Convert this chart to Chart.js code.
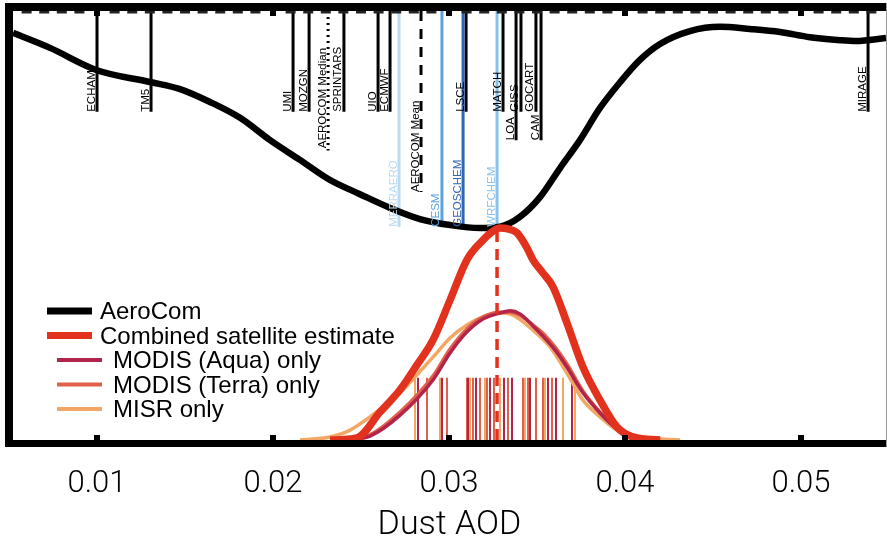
<!DOCTYPE html>
<html><head><meta charset="utf-8">
<script src="https://cdn.jsdelivr.net/npm/chart.js@4/dist/chart.umd.min.js"></script>
<style>html,body{margin:0;padding:0;background:#fff;overflow:hidden}canvas{display:block}</style>
</head><body>
<canvas id="c" width="887" height="547"></canvas>
<script>
// ---------------- DATA ----------------
const xTicks = [0.01, 0.02, 0.03, 0.04, 0.05];
const xLabel = 'Dust AOD';

const modelNames = ['ECHAM','TM5','UMI','MOZGN','AEROCOM Median','SPRINTARS','UIO','ECMWF','MERRAERO','AEROCOM Mean','CESM','GEOSCHEM','LSCE','WRFCHEM','MATCH','LOA','GISS','GOCART','CAM','MIRAGE'];
const modelAOD   = [0.0100,0.01307,0.02114,0.02205,0.02313,0.02403,0.02597,0.02665,0.02716,0.02841,0.02960,0.03080,0.03097,0.03273,0.03307,0.03381,0.03409,0.03494,0.03523,0.05381];

// AeroCom model distribution (density, hanging from the top of the panel)
const aerocomAOD     = [0.00523,0.00733,0.0100,0.01307,0.01472,0.01642,0.01813,0.01983,0.02153,0.02324,0.02494,0.02665,0.02835,0.03006,0.03176,0.0329,0.03403,0.03517,0.03631,0.03744,0.03858,0.03972,0.04085,0.04199,0.04369,0.0454,0.0471,0.04881,0.05051,0.05222,0.05313,0.05483];
const aerocomDensity = [5.1,8.6,13.8,16.6,18.2,21.2,24.9,30.1,34.7,39.4,42.7,45.9,48.5,49.9,50.6,50.3,48.0,43.4,36.6,30.1,22.6,16.6,11.4,7.7,4.7,3.7,4.2,4.9,6.1,6.8,7.0,6.3];

// Combined satellite estimate
const combinedAOD     = [0.02324,0.02477,0.02608,0.02722,0.02818,0.02909,0.03006,0.03102,0.03193,0.03244,0.0329,0.03335,0.03386,0.03443,0.03477,0.03534,0.03591,0.0367,0.03761,0.03858,0.03955,0.04045,0.04199];
const combinedDensity = [0,0.5,6.5,11.7,17.5,23.3,32.6,42.0,46.6,48.5,49.4,49.2,48.3,44.8,42.0,38.9,35.7,27.3,17.0,9.3,3.0,0.7,0];
const combinedMean = 0.03273;

// MODIS (Aqua) only
const aquaAOD     = [0.02438,0.02551,0.02722,0.02909,0.03006,0.03102,0.03193,0.0329,0.03347,0.03403,0.03477,0.03534,0.03602,0.0367,0.03761,0.03858,0.03955,0.04085,0.04199];
const aquaDensity = [0,0.9,5.8,14.0,20.3,25.2,28.2,29.6,30.1,29.4,26.6,24.2,21.0,17.0,11.0,6.3,2.6,0.5,0];
// MODIS (Terra) only
const terraAOD     = [0.02409,0.02551,0.02722,0.02909,0.03006,0.03102,0.03193,0.0329,0.03347,0.03403,0.03477,0.03534,0.03602,0.0367,0.03761,0.03858,0.03955,0.04085,0.04199];
const terraDensity = [0,1.2,6.5,14.9,21.2,25.9,28.7,29.8,29.8,29.1,26.8,24.9,21.7,17.7,11.4,6.5,2.8,0.7,0];
// MISR only
const misrAOD     = [0.02153,0.02324,0.02438,0.02625,0.02722,0.02818,0.02909,0.03006,0.03102,0.03193,0.0329,0.03364,0.03477,0.03574,0.0367,0.03761,0.03858,0.03955,0.04142,0.04313];
const misrDensity = [0,0.7,2.3,7.7,11.0,15.2,19.3,23.8,26.8,28.7,29.6,29.1,25.6,21.7,15.6,9.3,5.4,2.3,0.5,0];

// individual retrieval values (rug)
const rugMisr  = [0.028068,0.029489,0.031193,0.032045,0.032898,0.034318,0.035455,0.036477,0.03716];
const rugAqua  = [0.028239,0.029602,0.03108,0.031534,0.03233,0.033125,0.03358,0.034602,0.035625,0.03608,0.036989];
const rugTerra = [0.02875,0.029886,0.031023,0.031364,0.031761,0.032159,0.032557,0.033352,0.034205,0.034489,0.034943,0.035341,0.035852];

const legendLabels = ['AeroCom','Combined satellite estimate','MODIS (Aqua) only','MODIS (Terra) only','MISR only'];

// ---------------- STYLE ----------------
const C = {aero:'#000000', comb:'#e2311d', aqua:'#b3244b', terra:'#e0604a', misr:'#f2a764'};
const modelStyle = {
  'ECHAM':{c:'#000',len:23.5}, 'TM5':{c:'#000',len:23.5}, 'UMI':{c:'#000',len:23.5}, 'MOZGN':{c:'#000',len:23.5},
  'AEROCOM Median':{c:'#000',len:32.5,dash:[2,4],lab:32.0}, 'SPRINTARS':{c:'#000',len:23.5}, 'UIO':{c:'#000',len:23.5},
  'ECMWF':{c:'#000',len:23.5}, 'MERRAERO':{c:'#b9dcf4',len:50.3}, 'AEROCOM Mean':{c:'#000',len:42.2,dash:[10,8]},
  'CESM':{c:'#5da2de',len:50.3}, 'GEOSCHEM':{c:'#2f66b6',len:50.3}, 'LSCE':{c:'#000',len:23.5},
  'WRFCHEM':{c:'#88c2ec',len:50.3}, 'MATCH':{c:'#000',len:23.5}, 'LOA':{c:'#000',len:30.1},
  'GISS':{c:'#000',len:23.5}, 'GOCART':{c:'#000',len:23.5}, 'CAM':{c:'#000',len:30.1}, 'MIRAGE':{c:'#000',len:23.5}
};
const rugTop = 14.5;
const FONT = '"Liberation Sans", Arial, sans-serif';
const AXFONT = 'Roboto, "Liberation Sans", sans-serif';

// ---------------- BUILD ----------------
const pts = (xs, ys) => xs.map((x,i)=>({x, y:ys[i]}));
const rug = arr => { const d=[]; arr.forEach(v=>{ d.push({x:v,y:0},{x:v,y:rugTop},{x:v,y:null}); }); return d; };

const datasets = [];
datasets.push({data:pts(combinedAOD,combinedDensity), borderColor:C.comb, borderWidth:7.5, yAxisID:'y', cubicInterpolationMode:'monotone'});
datasets.push({data:[{x:combinedMean,y:0},{x:combinedMean,y:Math.max(...combinedDensity)}], borderColor:C.comb, borderWidth:3.5, borderDash:[11,7], yAxisID:'y'});
datasets.push({data:pts(aquaAOD,aquaDensity), borderColor:C.aqua, borderWidth:3.5, yAxisID:'y', cubicInterpolationMode:'monotone'});
datasets.push({data:pts(terraAOD,terraDensity), borderColor:C.terra, borderWidth:3.5, yAxisID:'y', cubicInterpolationMode:'monotone'});
datasets.push({data:pts(misrAOD,misrDensity), borderColor:C.misr, borderWidth:3.5, yAxisID:'y', cubicInterpolationMode:'monotone'});
datasets.push({data:rug(rugAqua), borderColor:C.aqua, borderWidth:2, yAxisID:'y'});
datasets.push({data:rug(rugTerra), borderColor:C.terra, borderWidth:2, yAxisID:'y'});
datasets.push({data:rug(rugMisr), borderColor:C.misr, borderWidth:2, yAxisID:'y'});
datasets.push({data:pts(aerocomAOD,aerocomDensity), borderColor:C.aero, borderWidth:6.5, yAxisID:'y2', cubicInterpolationMode:'monotone'});
modelNames.forEach((n,i)=>{
  const s = modelStyle[n];
  datasets.push({data:[{x:modelAOD[i],y:0},{x:modelAOD[i],y:s.len}], borderColor:s.c, borderWidth:3, borderDash:s.dash||[], yAxisID:'y2'});
});
datasets.forEach(d=>{ d.pointRadius=0; d.fill=false; d.borderCapStyle='butt'; d.spanGaps=false; });

const labelsPlugin = {
  id:'modelLabels',
  afterDatasetsDraw(chart){
    const ctx = chart.ctx, xs = chart.scales.x, ys = chart.scales.y2;
    ctx.save();
    ctx.font = '11.5px ' + FONT;
    modelNames.forEach((n,i)=>{
      const s = modelStyle[n];
      const px = xs.getPixelForValue(modelAOD[i]);
      const py = ys.getPixelForValue(s.lab!==undefined ? s.lab : s.len);
      ctx.save();
      ctx.translate(px-2.5, py);
      ctx.rotate(-Math.PI/2);
      ctx.fillStyle = s.c;
      ctx.textAlign='left'; ctx.textBaseline='alphabetic';
      ctx.fillText(n, 0, 0);
      ctx.restore();
    });
    ctx.restore();
  }
};

const framePlugin = {
  id:'frame',
  afterDraw(chart){
    const ctx = chart.ctx, a = chart.chartArea, xs = chart.scales.x;
    ctx.save();
    ctx.fillStyle='#000';
    ctx.fillRect(5, 3, a.right-5, 8);          // top
    ctx.fillRect(5, 3, a.left-5, a.bottom+7-3); // left
    ctx.fillRect(5, a.bottom, a.right-5, 7);   // bottom
    ctx.strokeStyle='#9a9a9a'; ctx.lineWidth=1;
    ctx.beginPath(); ctx.moveTo(a.right+0.5, 3); ctx.lineTo(a.right+0.5, a.bottom+7); ctx.stroke();
    // minor ticks on top
    ctx.fillStyle='#222';
    for (let k=6; k<=54; k++){
      if (k%10===0) continue;
      const px = xs.getPixelForValue(k/1000);
      if (px < a.left+4 || px > a.right-4) continue;
      ctx.fillRect(px-5, a.top, 10, 2.5);
    }
    ctx.fillStyle='#000';
    xTicks.forEach(v=>{
      const px = xs.getPixelForValue(v);
      ctx.fillRect(px-3, a.top, 6, 5);
      ctx.fillRect(px-3, a.bottom-5, 6, 5);
    });
    // legend
    const rows = [
      {c:C.aero, w:7, x0:47, x1:92, tx:100},
      {c:C.comb, w:7, x0:47, x1:92, tx:100},
      {c:C.aqua, w:4, x0:57, x1:102, tx:113},
      {c:C.terra,w:4, x0:57, x1:102, tx:113},
      {c:C.misr, w:4, x0:57, x1:102, tx:113}
    ];
    ctx.font = '24px ' + FONT;
    ctx.textBaseline='alphabetic'; ctx.textAlign='left';
    rows.forEach((r,i)=>{
      const base = 319 + i*24.5;
      ctx.strokeStyle=r.c; ctx.lineWidth=r.w; ctx.lineCap='butt';
      ctx.beginPath(); ctx.moveTo(r.x0, base-8); ctx.lineTo(r.x1, base-8); ctx.stroke();
      ctx.fillStyle='#000';
      ctx.fillText(legendLabels[i], r.tx, base);
    });
    ctx.restore();
  }
};

new Chart(document.getElementById('c'), {
  type:'line',
  data:{datasets},
  options:{
    responsive:false, animation:false, devicePixelRatio:1, events:[],
    layout:{padding:{left:13, right:1, top:11, bottom:1}},
    plugins:{legend:{display:false}, tooltip:{enabled:false}},
    scales:{
      x:{type:'linear', position:'bottom', min:0.005227, max:0.05483,
         afterBuildTicks:s=>{ s.ticks = xTicks.map(v=>({value:v})); },
         afterFit:s=>{ s.height = 106; },
         ticks:{font:{family:AXFONT, size:31, weight:'300'}, color:'#000', padding:26, maxRotation:0, autoSkip:false, callback:v=>v.toFixed(2)},
         grid:{display:false, drawTicks:false}, border:{display:false},
         title:{display:true, text:xLabel, color:'#000', font:{family:AXFONT, size:34, weight:'300'}, padding:{top:0,bottom:0}}},
      y:{display:false, min:0, max:100},
      y2:{display:false, min:0, max:100, reverse:true}
    }
  },
  plugins:[labelsPlugin, framePlugin]
});
</script>
</body></html>
